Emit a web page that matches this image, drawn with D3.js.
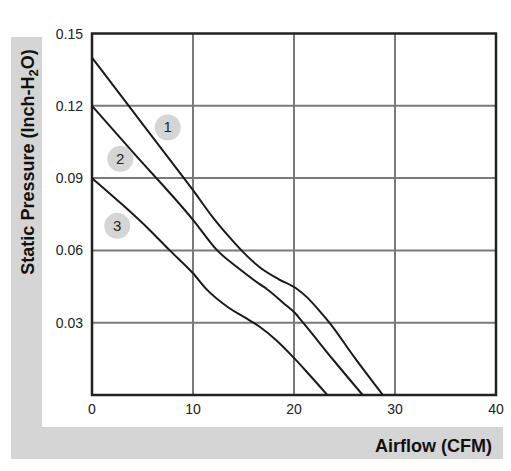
<!DOCTYPE html>
<html>
<head>
<meta charset="utf-8">
<script src="https://cdn.jsdelivr.net/npm/d3@7"></script>
<style>
  body { margin: 0; background: #fff; }
  text { font-family: "Liberation Sans", Arial, sans-serif; }
</style>
</head>
<body>
<div id="canvas"></div>
<script>
// data
var xTicks = [0, 10, 20, 30, 40];
var yTicks = [0.03, 0.06, 0.09, 0.12, 0.15];
var yTickLabels = ["0.03", "0.06", "0.09", "0.12", "0.15"];

var curve1 = [[0,0.14],[3,0.1235],[7,0.1015],[10,0.085],[12,0.0735],[13.5,0.066],[14.8,0.060],
  [16.6,0.053],[18.5,0.048],[20.3,0.044],[21.3,0.0405],[22.5,0.035],[23.6,0.0295],[26,0.0155],[28.8,0]];
var curve2 = [[0,0.12],[4,0.101],[10,0.0727],[12.4,0.060],[14.7,0.052],[16.6,0.046],[17.3,0.044],
  [19,0.038],[20.1,0.034],[20.9,0.030],[24,0.014],[26.8,0]];
var curve3 = [[0,0.09],[3,0.079],[5.7,0.0685],[7.7,0.060],[10,0.0505],[11.4,0.0436],[13.4,0.0366],
  [15.6,0.031],[16.6,0.0283],[18.3,0.0225],[19.9,0.0158],[21.5,0.0085],[23.3,0]];
var curveLabels = ["1", "2", "3"];
var labelPos = [[7.5,0.111],[2.8,0.098],[2.5,0.0702]];

var w = 511, h = 471;
var svg = d3.select("#canvas").append("svg").attr("width", w).attr("height", h);

var x = d3.scaleLinear().domain([0, 40]).range([92, 496]);
var y = d3.scaleLinear().domain([0, 0.15]).range([395, 33.5]);

// grey L behind the axis titles
svg.append("rect").attr("x", 11).attr("y", 37).attr("width", 31).attr("height", 422).style("fill", "#d5d5d5");
svg.append("rect").attr("x", 11).attr("y", 427).attr("width", 492).attr("height", 32).style("fill", "#d5d5d5");

// grid
svg.selectAll("line.vg").data(xTicks.slice(1, 4)).enter().append("line")
  .attr("x1", d => x(d)).attr("x2", d => x(d)).attr("y1", y(0)).attr("y2", y(0.15))
  .style("stroke", "#7a7a7a").style("stroke-width", 2);
svg.selectAll("line.hg").data(yTicks.slice(0, 4)).enter().append("line")
  .attr("x1", x(0)).attr("x2", x(40)).attr("y1", d => y(d)).attr("y2", d => y(d))
  .style("stroke", "#7a7a7a").style("stroke-width", 2);

// frame
svg.append("rect").attr("x", x(0)).attr("y", y(0.15)).attr("width", x(40) - x(0)).attr("height", y(0) - y(0.15))
  .style("fill", "none").style("stroke", "#222").style("stroke-width", 2.5);

// curves
var line = d3.line().x(d => x(d[0])).y(d => y(d[1])).curve(d3.curveMonotoneX);
[curve1, curve2, curve3].forEach(function(c) {
  svg.append("path").attr("d", line(c)).style("fill", "none").style("stroke", "#1a1a1a").style("stroke-width", 2);
});

// numbered markers
curveLabels.forEach(function(t, i) {
  svg.append("circle").attr("cx", x(labelPos[i][0])).attr("cy", y(labelPos[i][1])).attr("r", 13).style("fill", "#d5d5d5");
  svg.append("text").attr("x", x(labelPos[i][0])).attr("y", y(labelPos[i][1]) + 5)
    .attr("text-anchor", "middle").style("font-size", "15px").style("fill", "#222").text(t);
});

// tick labels
svg.selectAll("text.yt").data(yTicks).enter().append("text")
  .attr("x", 83).attr("y", d => y(d) + 5).attr("text-anchor", "end")
  .style("font-size", "14px").style("fill", "#222").text((d, i) => yTickLabels[i]);
svg.selectAll("text.xt").data(xTicks).enter().append("text")
  .attr("x", d => x(d)).attr("y", 414).attr("text-anchor", "middle")
  .style("font-size", "14px").style("fill", "#222").text(d => d);

// axis titles
svg.append("text").attr("x", 492).attr("y", 452).attr("text-anchor", "end")
  .style("font-size", "18px").style("font-weight", "bold").style("fill", "#111").text("Airflow (CFM)");

var yl = svg.append("text").attr("transform", "translate(34,162) rotate(-90)").attr("text-anchor", "middle")
  .style("font-size", "18px").style("font-weight", "bold").style("fill", "#111");
yl.append("tspan").text("Static Pressure (Inch-H");
yl.append("tspan").attr("dy", 4).style("font-size", "13px").text("2");
yl.append("tspan").attr("dy", -4).text("O)");
</script>
</body>
</html>
